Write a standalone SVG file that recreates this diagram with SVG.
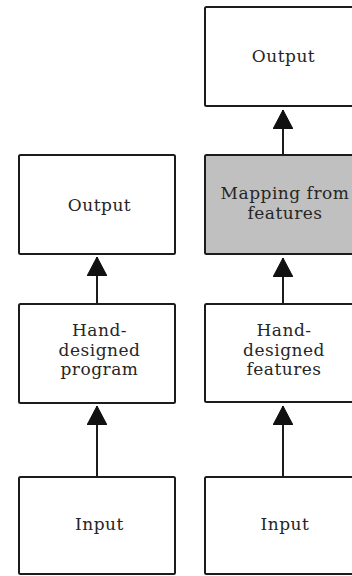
<svg xmlns="http://www.w3.org/2000/svg" width="352" height="576" viewBox="0 0 352 576">
  <style>
    .box { fill: #ffffff; stroke: #1c1c1c; stroke-width: 2; }
    .gray { fill: #c0c0c0; }
    .lbl { font-family: "DejaVu Serif", "Liberation Serif", serif; font-size: 17px; letter-spacing: 0.5px; fill: #262626; text-anchor: middle; }
    .conn { stroke: #1c1c1c; stroke-width: 2; fill: none; marker-end: url(#arrow); }
  </style>
  <defs>
    <marker id="arrow" viewBox="0 0 19 20" markerWidth="19" markerHeight="20" refX="19" refY="10" orient="auto" markerUnits="userSpaceOnUse">
      <path d="M0,0 L19,10 L0,20 Z" fill="#111111" stroke="#111111" stroke-width="1" stroke-linejoin="round"/>
    </marker>
  </defs>
  <rect width="352" height="576" fill="#ffffff"/>

  <g id="connectors">
    <line class="conn" x1="97" y1="304" x2="97" y2="257"/>
    <line class="conn" x1="97" y1="477" x2="97" y2="406"/>
    <line class="conn" x1="283" y1="155" x2="283" y2="110"/>
    <line class="conn" x1="283" y1="304" x2="283" y2="258"/>
    <line class="conn" x1="283" y1="477" x2="283" y2="406"/>
  </g>

  <g id="left-output">
    <rect class="box" x="19" y="155" width="156" height="99" rx="1.5"/>
    <text class="lbl" x="99.5" y="210.5">Output</text>
  </g>
  <g id="left-program">
    <rect class="box" x="19" y="304" width="156" height="99" rx="1.5"/>
    <text class="lbl" x="99.5" y="336">Hand-</text>
    <text class="lbl" x="99.5" y="355.5">designed</text>
    <text class="lbl" x="99.5" y="375">program</text>
  </g>
  <g id="left-input">
    <rect class="box" x="19" y="477" width="156" height="97" rx="1.5"/>
    <text class="lbl" x="99.5" y="530">Input</text>
  </g>

  <g id="right-output">
    <rect class="box" x="205" y="7" width="156" height="99" rx="1.5"/>
    <text class="lbl" x="283.5" y="61.5">Output</text>
  </g>
  <g id="right-mapping">
    <rect class="box gray" x="205" y="155" width="156" height="99" rx="1.5"/>
    <text class="lbl" x="285" y="199">Mapping from</text>
    <text class="lbl" x="285" y="218.5">features</text>
  </g>
  <g id="right-features">
    <rect class="box" x="205" y="304" width="156" height="98" rx="1.5"/>
    <text class="lbl" x="284" y="336">Hand-</text>
    <text class="lbl" x="284" y="355.5">designed</text>
    <text class="lbl" x="284" y="375">features</text>
  </g>
  <g id="right-input">
    <rect class="box" x="205" y="477" width="156" height="97" rx="1.5"/>
    <text class="lbl" x="285" y="530">Input</text>
  </g>
</svg>
